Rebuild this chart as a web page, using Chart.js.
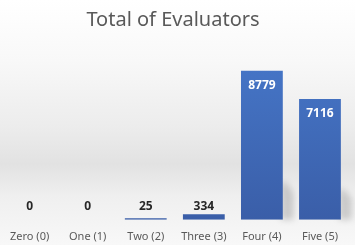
<!DOCTYPE html>
<html>
<head>
<meta charset="utf-8">
<script src="https://cdn.jsdelivr.net/npm/chart.js@4.4.0/dist/chart.umd.min.js"></script>
<style>
    html, body { margin: 0; padding: 0; }
    body {
        width: 355px;
        height: 245px;
        background: linear-gradient(to bottom, #ffffff 0%, #f8f8f8 25%, #ececec 52%, #e2e2e2 67%, #efefef 80%, #f8f8f8 100%);
    }
    .wrap { position: relative; width: 355px; height: 245px; }
</style>
</head>
<body>
<div class="wrap"><canvas id="evalChart"></canvas></div>
<script>
const categories = ['Zero (0)', 'One (1)', 'Two (2)', 'Three (3)', 'Four (4)', 'Five (5)'];
const evaluators = [0, 0, 25, 334, 8779, 7116];
const chartTitle = 'Total of Evaluators';

// soft shadow at the foot of the tall bars
const barShadows = {
    id: 'barShadows',
    beforeDatasetsDraw(chart) {
        const ctx = chart.ctx;
        const meta = chart.getDatasetMeta(0);
        ctx.save();
        ctx.filter = 'blur(3px)';
        ctx.fillStyle = 'rgba(0,0,0,0.16)';
        meta.data.forEach((bar) => {
            const h = bar.base - bar.y;
            if (!(h > 30)) return;
            const xr = bar.x + bar.width / 2;
            const hs = h * 0.25;
            ctx.beginPath();
            ctx.moveTo(xr - 2, bar.base);
            ctx.lineTo(xr + 11, bar.base);
            ctx.lineTo(xr + 11, bar.base - hs * 0.7);
            ctx.lineTo(xr + 3, bar.base - hs);
            ctx.lineTo(xr - 2, bar.base - hs);
            ctx.closePath();
            ctx.fill();
        });
        ctx.restore();
    }
};

// value labels: white inside tall bars, dark above short ones
const valueLabels = {
    id: 'valueLabels',
    afterDatasetsDraw(chart) {
        const ctx = chart.ctx;
        const xs = chart.scales.x;
        const ys = chart.scales.y;
        const base = ys.getPixelForValue(0);
        ctx.save();
        ctx.font = 'bold 12px "Noto Sans", sans-serif';
        ctx.textAlign = 'center';
        ctx.textBaseline = 'middle';
        evaluators.forEach((v, i) => {
            const x = xs.getPixelForValue(i);
            const top = ys.getPixelForValue(v);
            if (base - top > 30) {
                ctx.fillStyle = '#ffffff';
                ctx.fillText(String(v), x, top + 15);
            } else {
                ctx.fillStyle = '#262626';
                ctx.fillText(String(v), x, Math.min(top - 7, base - 13));
            }
        });
        ctx.restore();
    }
};

function barGradient(context) {
    const area = context.chart.chartArea;
    if (!area) return '#4472c4';
    const g = context.chart.ctx.createLinearGradient(0, area.top, 0, area.bottom);
    g.addColorStop(0, '#4677c9');
    g.addColorStop(1, '#3a5ea8');
    return g;
}

new Chart(document.getElementById('evalChart'), {
    type: 'bar',
    data: {
        labels: categories,
        datasets: [{
            // zero bars are left out so the thin 25 bar can keep a visible length
            data: evaluators.map(v => (v === 0 ? null : v)),
            backgroundColor: barGradient,
            borderWidth: 0,
            minBarLength: 1.5,
            categoryPercentage: 1,
            barPercentage: 0.72
        }]
    },
    options: {
        responsive: true,
        maintainAspectRatio: false,
        animation: false,
        layout: { padding: { left: -3, right: 6, top: 0, bottom: -8 } },
        scales: {
            x: {
                grid: { display: false, drawTicks: false },
                border: { display: false },
                ticks: { color: '#595959', font: { family: '"Noto Sans", sans-serif', size: 11 }, padding: 10 }
            },
            y: {
                display: false,
                min: 0,
                max: 10000
            }
        },
        plugins: {
            legend: { display: false },
            tooltip: { enabled: false },
            title: {
                display: true,
                text: chartTitle,
                color: '#595959',
                font: { family: '"Noto Sans", sans-serif', size: 20, weight: 'normal' },
                padding: { top: 8, bottom: 18 }
            }
        }
    },
    plugins: [barShadows, valueLabels]
});
</script>
</body>
</html>
